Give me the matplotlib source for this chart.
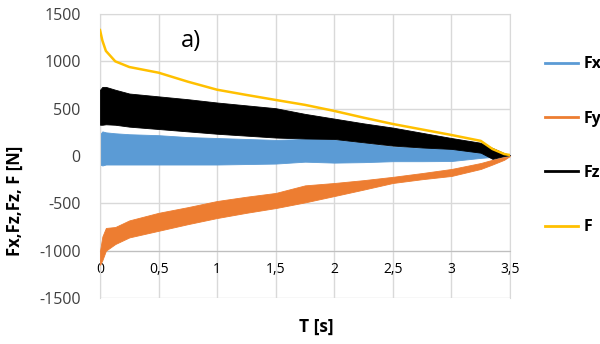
import matplotlib
matplotlib.use("Agg")
import matplotlib.pyplot as plt

plt.rcParams['font.family'] = ['Open Sans', 'DejaVu Sans']

# czas [s] i obwiednie sygnałów
t = [0, 0.02, 0.05, 0.13, 0.25, 0.5, 0.75, 1.0, 1.25, 1.5, 1.75, 2.0,
     2.25, 2.5, 2.75, 3.0, 3.25, 3.35, 3.45, 3.5]

F = [1330, 1220, 1110, 1000, 940, 880, 785, 700, 645, 592, 540, 476,
     405, 338, 280, 222, 160, 74, 21, 10]

fz_top = [700, 730, 730, 700, 660, 630, 600, 565, 535, 505, 445, 395,
          345, 300, 245, 190, 140, 85, 30, 10]
fz_bot = [330, 330, 335, 330, 310, 285, 260, 235, 215, 195, 185, 180,
          145, 110, 90, 75, 35, -30, 0, 10]

fx_top = [230, 260, 250, 240, 230, 220, 200, 190, 180, 170, 180, 175,
          140, 100, 85, 75, 50, 40, 20, 10]
fx_bot = [-90, -100, -90, -90, -90, -90, -90, -90, -85, -80, -60, -70,
          -65, -55, -55, -53, -20, -10, 0, 10]

fy_top = [-1000, -850, -760, -750, -680, -600, -540, -475, -430, -390, -310, -285,
          -255, -220, -180, -137, -74, -40, -10, 0]
fy_bot = [-1150, -1100, -1000, -930, -860, -790, -720, -655, -600, -550, -490, -423,
          -355, -285, -245, -211, -137, -90, -40, 0]

xticks = [0, 0.5, 1, 1.5, 2, 2.5, 3, 3.5]
xlabels = ['0', '0,5', '1', '1,5', '2', '2,5', '3', '3,5']
yticks = [-1500, -1000, -500, 0, 500, 1000, 1500]

c_fx = '#5B9BD5'
c_fy = '#ED7D31'
c_fz = '#000000'
c_f = '#FFC000'

fig = plt.figure(figsize=(6, 3.44), dpi=100)
ax = fig.add_axes([0.1667, 0.1337, 0.6833, 0.8256])

ax.fill_between(t, fx_bot, fx_top, color=c_fx, lw=0.6, zorder=2)
ax.fill_between(t, fy_bot, fy_top, color=c_fy, lw=0.6, zorder=3)
ax.fill_between(t, fz_bot, fz_top, color=c_fz, lw=0.6, zorder=4)
ax.plot(t, F, color=c_f, lw=1.8, zorder=5)

# uchwyty legendy
ax.plot([], [], color=c_fx, lw=2, label='Fx')
ax.plot([], [], color=c_fy, lw=2, label='Fy')
ax.plot([], [], color=c_fz, lw=2, label='Fz')
ax.plot([], [], color=c_f, lw=2, label='F')

ax.set_xlim(0, 3.5)
ax.set_ylim(-1500, 1500)
ax.set_xticks(xticks)
ax.set_xticklabels(xlabels, fontsize=9.5, color='#404040')
ax.set_yticks(yticks)
ax.set_yticklabels([str(v) for v in yticks], fontsize=11.5, color='#404040')
ax.tick_params(axis='both', length=0)
ax.tick_params(axis='y', pad=14)
ax.tick_params(axis='x', pad=8)
ax.grid(True, color='#d9d9d9', lw=1, zorder=0)
ax.set_axisbelow(True)

for s in ax.spines.values():
    s.set_color('#d9d9d9')
ax.spines['bottom'].set_position(('data', -1000))
ax.spines['bottom'].set_color('#bfbfbf')

ax.text(0.78, 1220, 'a)', fontsize=17, ha='center', va='center', color='black')

fig.text(0.025, 0.415, 'Fx,Fz,Fz, F [N]', rotation=90, fontsize=12,
         fontweight='bold', ha='center', va='center')
fig.text(0.527, 0.05, 'T [s]', fontsize=12.5, fontweight='bold',
         ha='center', va='center')

leg = ax.legend(loc='center left', bbox_to_anchor=(1.05, 0.536), frameon=False,
                prop={'weight': 'bold', 'size': 11.5}, labelspacing=2.4,
                handlelength=2.1, handletextpad=0.3)

fig.savefig('out.png', dpi=100)
